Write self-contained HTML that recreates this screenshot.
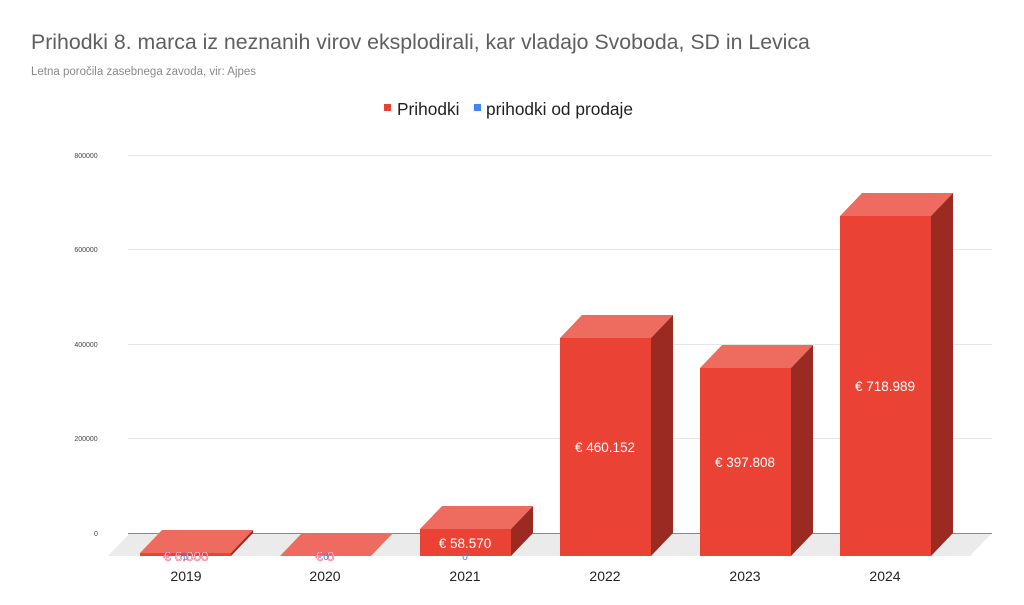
<!DOCTYPE html>
<html><head><meta charset="utf-8"><style>
body{margin:0;background:#fff;}
svg{display:block;font-family:"Liberation Sans",Arial,sans-serif;}
</style></head><body>
<svg width="1024" height="605" viewBox="0 0 1024 605">
<rect width="1024" height="605" fill="#fff"/>
<text x="31" y="49" font-size="21.3" fill="#5f5f5f">Prihodki 8. marca iz neznanih virov eksplodirali, kar vladajo Svoboda, SD in Levica</text>
<text x="31" y="75" font-size="11.5" fill="#8a8a8a">Letna poročila zasebnega zavoda, vir: Ajpes</text>
<rect x="384" y="104" width="7" height="7" fill="#ea4335"/>
<text x="397" y="115" font-size="17.3" fill="#222">Prihodki</text>
<rect x="474" y="104" width="7" height="7" fill="#4285f4"/>
<text x="486" y="115" font-size="17.3" fill="#222">prihodki od prodaje</text>
<g stroke="#e6e6e6" stroke-width="1">
<line x1="128" y1="155.5" x2="992" y2="155.5"/>
<line x1="128" y1="249.5" x2="992" y2="249.5"/>
<line x1="128" y1="344.5" x2="992" y2="344.5"/>
<line x1="128" y1="438.5" x2="992" y2="438.5"/>
</g>
<g font-size="7" fill="#444" text-anchor="middle">
<text x="86" y="158">800000</text>
<text x="86" y="252">600000</text>
<text x="86" y="347">400000</text>
<text x="86" y="441">200000</text>
<text x="96" y="536">0</text>
</g>
<polygon points="130,533 992,533 970,556 108,556" fill="#ebebeb"/>
<line x1="128" y1="533.5" x2="992" y2="533.5" stroke="#888" stroke-width="1"/>
<g id="bars">
<rect x="140" y="553" width="91" height="3" fill="#ea4335"/>
<polygon points="140,553 162,530 253,530 231,553" fill="#ee6b5f"/>
<polygon points="231,553 253,530 253,533 231,556" fill="#9b2a22"/>
<polygon points="280,556 302,533 393,533 371,556" fill="#ee6b5f"/>
<rect x="420" y="529" width="91" height="27" fill="#ea4335"/>
<polygon points="420,529 442,506 533,506 511,529" fill="#ee6b5f"/>
<polygon points="511,529 533,506 533,533 511,556" fill="#9b2a22"/>
<rect x="560" y="338" width="91" height="218" fill="#ea4335"/>
<polygon points="560,338 582,315 673,315 651,338" fill="#ee6b5f"/>
<polygon points="651,338 673,315 673,533 651,556" fill="#9b2a22"/>
<rect x="700" y="368" width="91" height="188" fill="#ea4335"/>
<polygon points="700,368 722,345 813,345 791,368" fill="#ee6b5f"/>
<polygon points="791,368 813,345 813,533 791,556" fill="#9b2a22"/>
<rect x="840" y="216" width="91" height="340" fill="#ea4335"/>
<polygon points="840,216 862,193 953,193 931,216" fill="#ee6b5f"/>
<polygon points="931,216 953,193 953,533 931,556" fill="#9b2a22"/>
</g>
<g font-size="13.5" fill="#fff" text-anchor="middle">
<text x="186" y="561" stroke="#e46" stroke-width="0.5">€ 6.000</text>
<text x="325" y="561" stroke="#e46" stroke-width="0.5">€ 0</text>
<text x="465" y="548">€ 58.570</text>
<text x="605" y="452">€ 460.152</text>
<text x="745" y="467">€ 397.808</text>
<text x="885" y="391">€ 718.989</text>
</g>
<g font-size="10" fill="#4285f4" text-anchor="middle">
<text x="186" y="560">0</text><text x="326" y="560">0</text><text x="465" y="560">0</text>
</g>
<g font-size="14" fill="#222" text-anchor="middle">
<text x="186" y="581">2019</text>
<text x="325" y="581">2020</text>
<text x="465" y="581">2021</text>
<text x="605" y="581">2022</text>
<text x="745" y="581">2023</text>
<text x="885" y="581">2024</text>
</g>
</svg>
</body></html>
